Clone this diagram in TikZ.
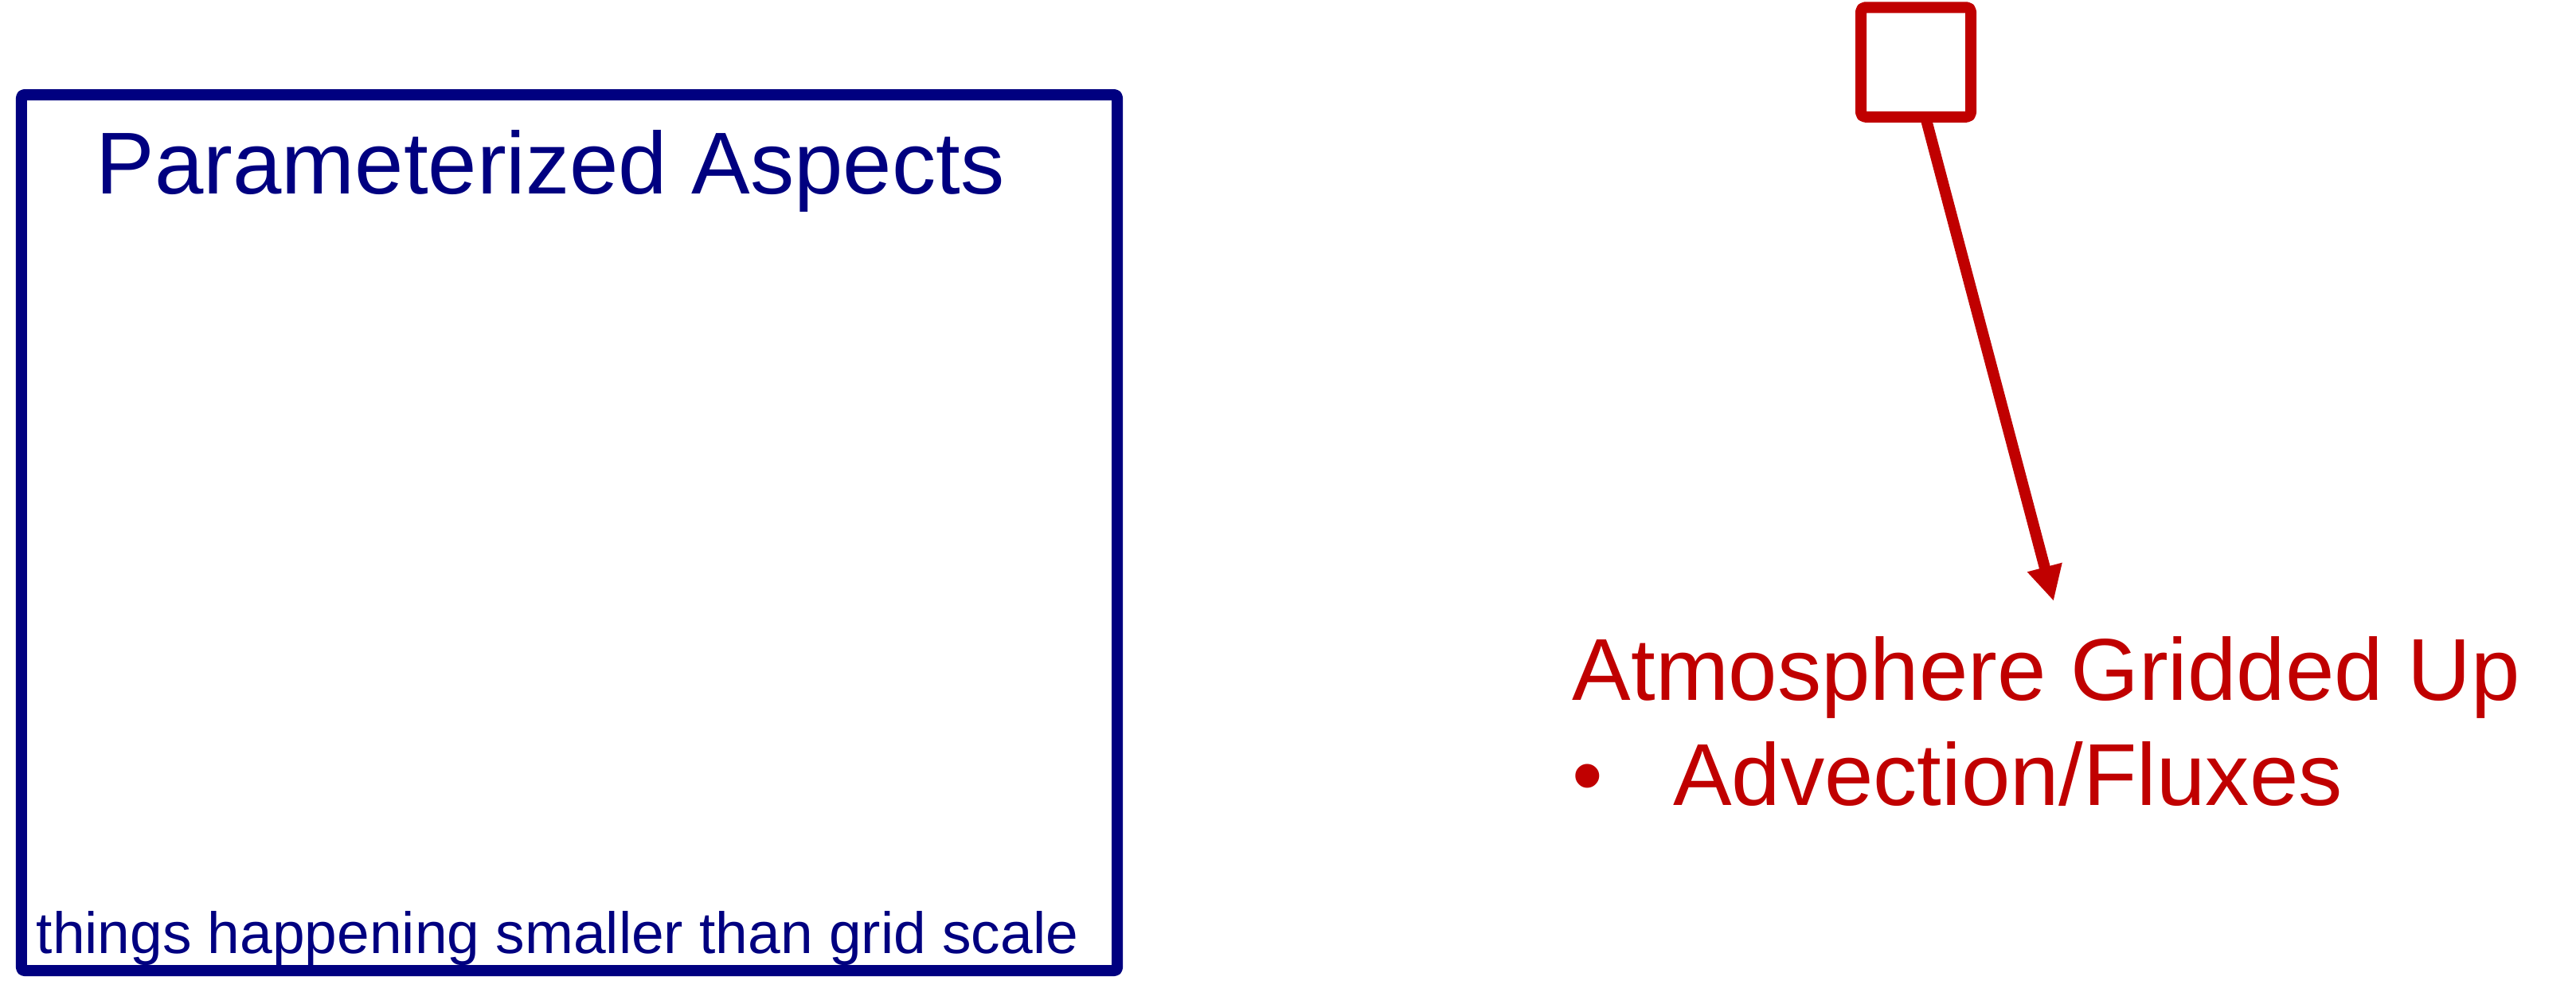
\documentclass[tikz,border=0pt]{standalone}
\usepackage{xcolor}
\usepackage{fontspec}
\setmainfont{Liberation Sans}
\usepackage{tikz}
\usetikzlibrary{positioning, arrows.meta}
\definecolor{gridblue}{HTML}{000080}
\definecolor{gridred}{HTML}{C00000}

\begin{document}
\begin{tikzpicture}[
    framebox/.style={draw=gridblue, line width=0.14cm, line join=round, rounded corners=1pt},
    cellbox/.style={draw=gridred, line width=0.14cm, line join=round, rounded corners=1.5pt},
    bigtext/.style={inner sep=0pt, font=\fontsize{31.4}{38}\selectfont},
    gridarrow/.style={draw=gridred, line width=0.14cm, -{Triangle[length=0.44cm, width=0.42cm]}}
  ]
  \useasboundingbox (0,0) rectangle (32.35,-12.60);

  % left: what the model cannot resolve
  \node[framebox, minimum width=13.76cm, minimum height=11cm] (paramsbox) at (7.15,-6.69) {};
  \node[bigtext, text=gridblue, anchor=base west] (paramstitle) at (1.20,-2.43) {Parameterized Aspects};
  \node[inner sep=0pt, text=gridblue, anchor=base west, font=\fontsize{20.8}{25}\selectfont]
    (paramsnote) at (0.45,-11.97) {things happening smaller than grid scale};

  % right: one grid cell
  \node[cellbox, minimum width=1.38cm, minimum height=1.375cm] (gridcell) at (24.06,-0.78) {};
  \node[bigtext, text=gridred, anchor=base west] (gridded) at (19.74,-8.79) {Atmosphere Gridded Up};
  \node[bigtext, text=gridred, anchor=base west] (fluxes) at (19.74,-10.11)
    {\textbullet\hspace{0.88cm}Advection/Fluxes};
  \coordinate (tipend) at (25.79,-7.55);

  \draw[gridarrow] ([xshift=1.2mm, yshift=0.7mm]gridcell.south) -- (tipend);
\end{tikzpicture}
\end{document}
